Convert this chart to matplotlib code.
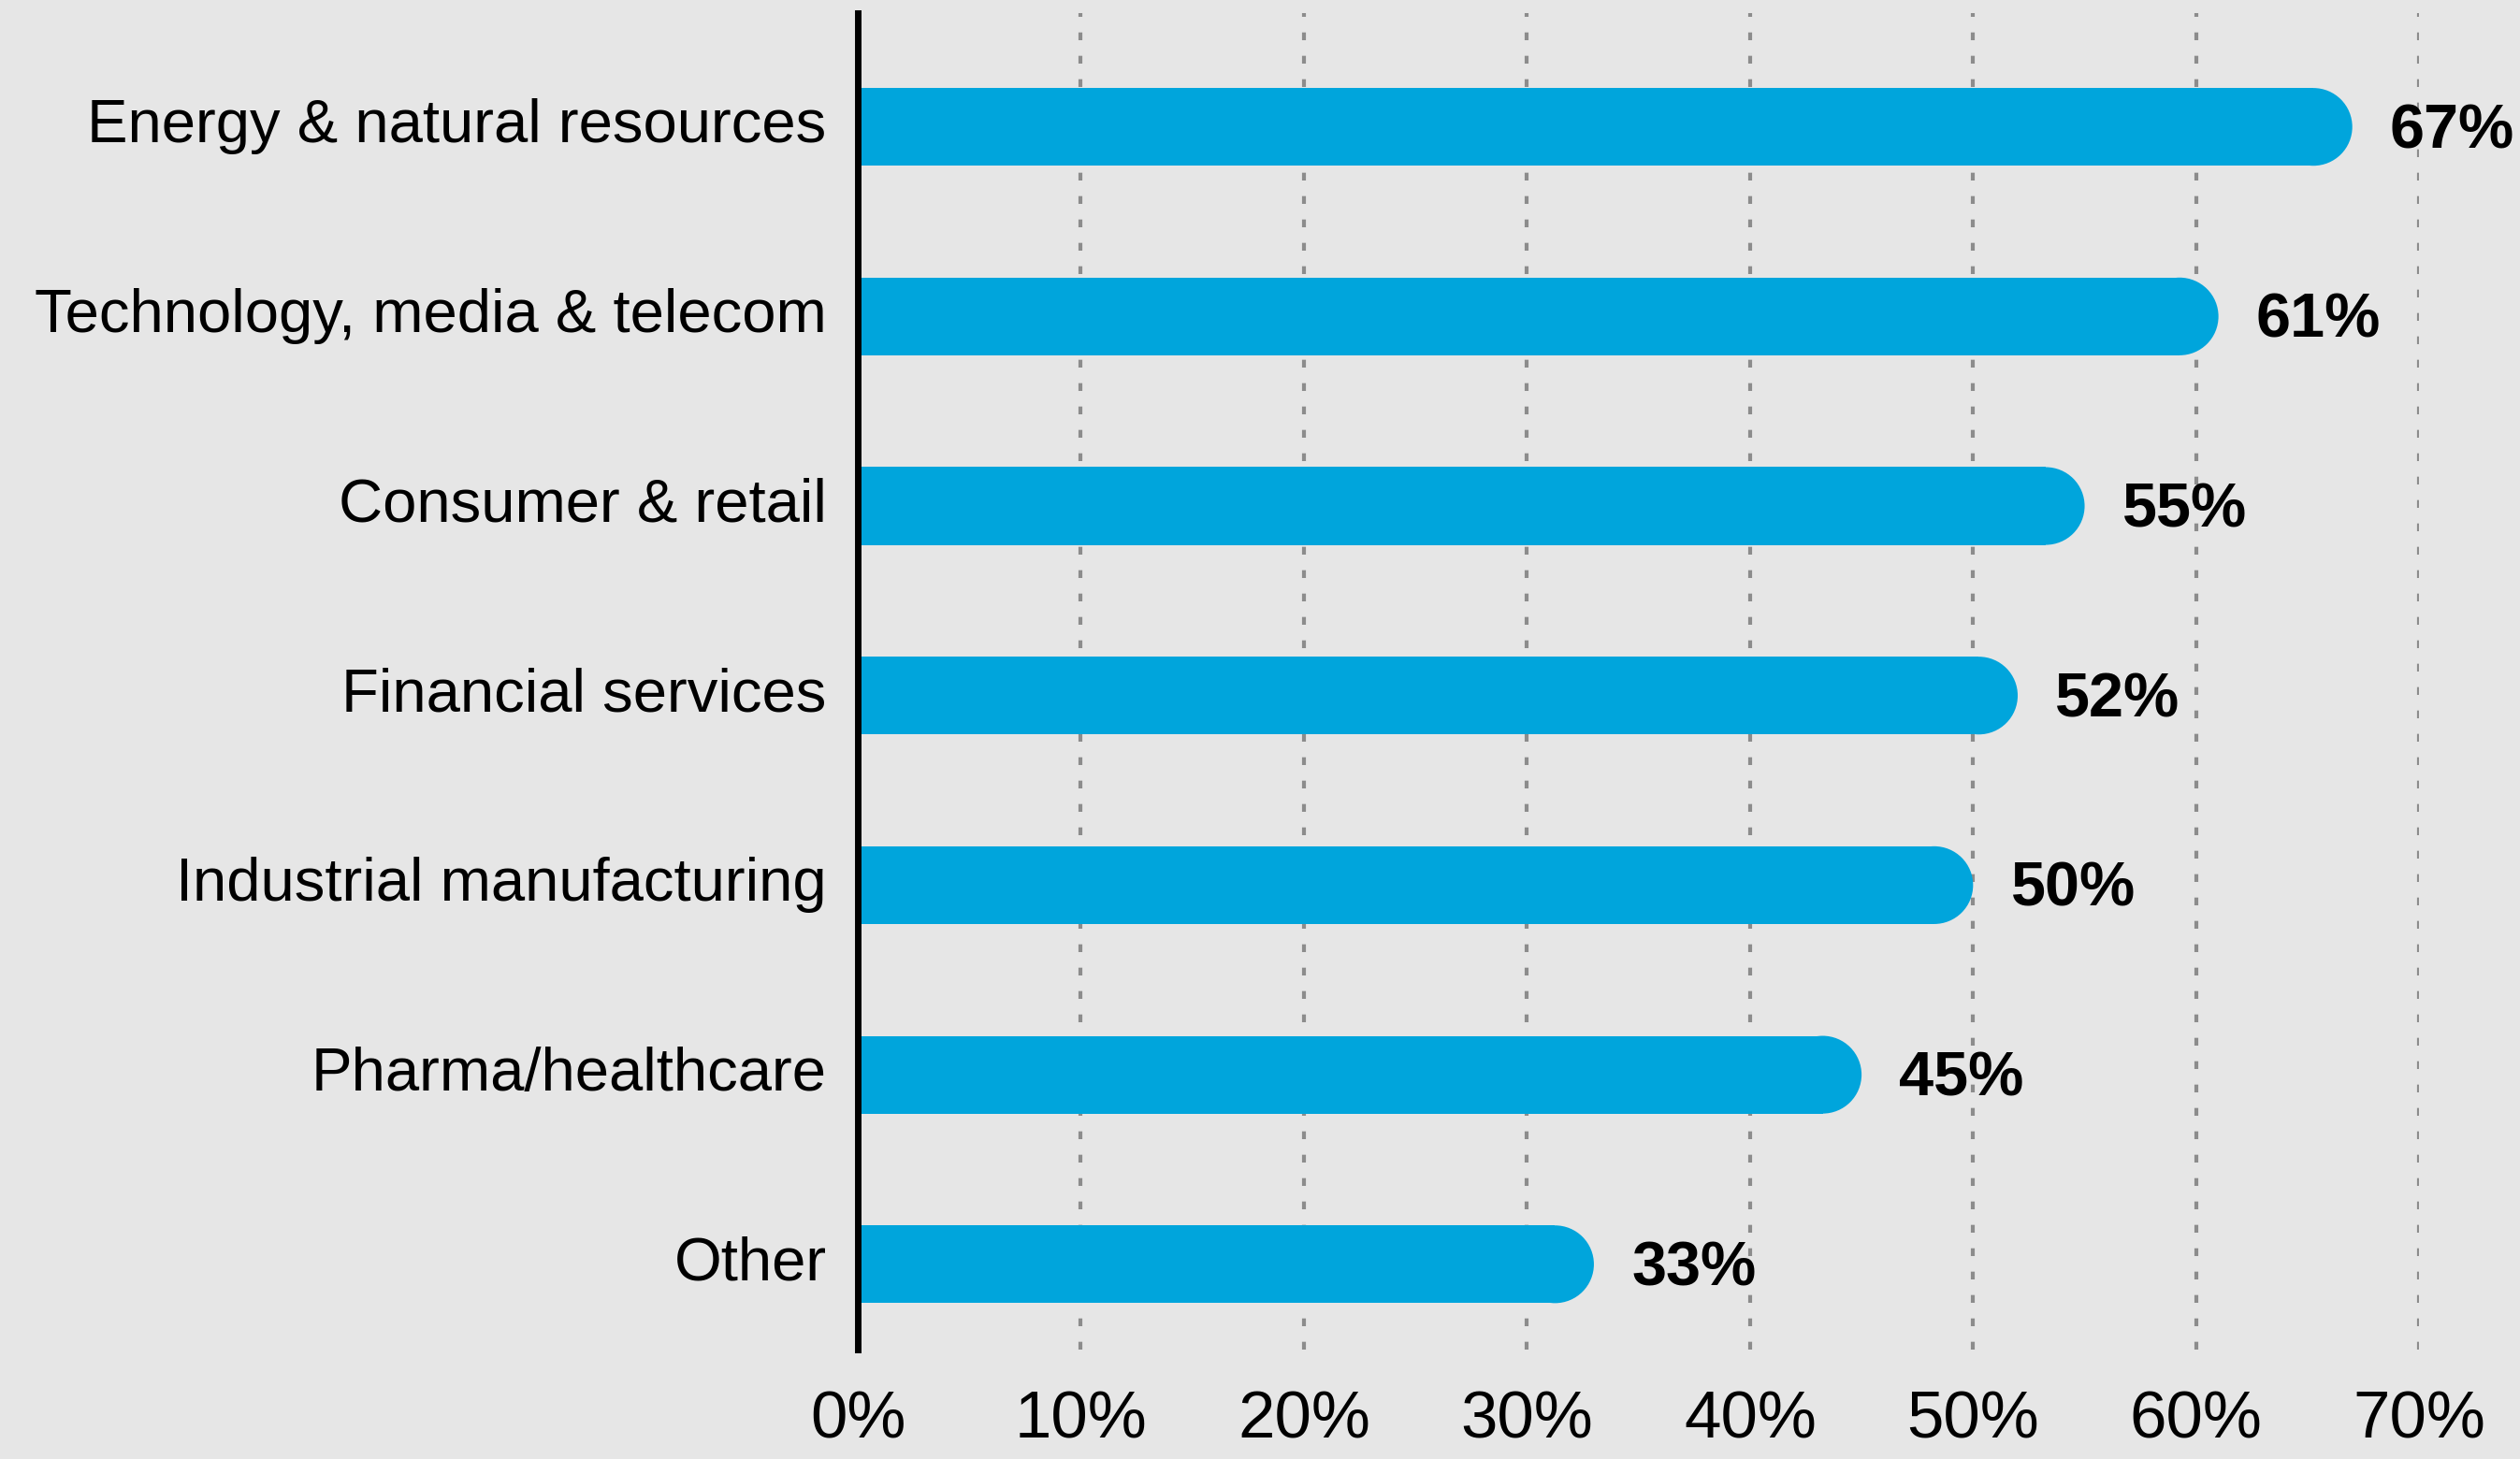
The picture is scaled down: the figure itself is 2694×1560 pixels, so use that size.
import matplotlib
matplotlib.use("Agg")
import matplotlib.pyplot as plt
from matplotlib.patches import Ellipse
from matplotlib.transforms import ScaledTranslation

plt.rcParams['font.family'] = ['Liberation Sans', 'DejaVu Sans']

categories = [
    "Energy & natural resources",
    "Technology, media & telecom",
    "Consumer & retail",
    "Financial services",
    "Industrial manufacturing",
    "Pharma/healthcare",
    "Other",
]
values = [67, 61, 55, 52, 50, 45, 33]
tick_values = [0, 10, 20, 30, 40, 50, 60, 70]
tick_labels = [f"{t}%" for t in tick_values]

bar_color = "#00A5DC"
bg_color = "#E6E6E6"
bar_h = 0.41

fig = plt.figure(figsize=(26.94, 15.6), dpi=100, facecolor=bg_color)
ax = fig.add_axes([0.3404, 0.075, 0.6196, 0.916])
ax.set_facecolor(bg_color)
ax.set_xlim(0, 70)
ax.set_ylim(6.45, -0.6)

# radius of the rounded end, in data units, so it looks like a half circle
ax_w_px = fig.get_figwidth() * fig.dpi * 0.6196
ax_h_px = fig.get_figheight() * fig.dpi * 0.916
px_per_x = ax_w_px / 70
px_per_y = ax_h_px / 7.05
r_px = bar_h * px_per_y / 2
rx = r_px / px_per_x

for i, v in enumerate(values):
    ax.barh(i, v - rx, height=bar_h, color=bar_color, zorder=3, linewidth=0)
    ax.add_patch(Ellipse((v - rx, i), 2 * rx, bar_h, color=bar_color,
                         zorder=3, linewidth=0))
    ax.annotate(f"{v}%", (v, i), xytext=(29, -4), textcoords="offset points",
                ha="left", va="center", fontsize=48, fontweight="bold",
                annotation_clip=False)

ax.set_yticks(range(len(categories)))
ax.set_yticklabels(categories, fontsize=47)
ax.set_xticks(tick_values)
ax.set_xticklabels(tick_labels, fontsize=51)
ax.tick_params(axis="y", length=0, pad=24)
ax.tick_params(axis="x", length=0, pad=31)

# labels sit a touch above the bar centre in the original
shift = ScaledTranslation(0, 5 / 72, fig.dpi_scale_trans)
for lbl in ax.get_yticklabels():
    lbl.set_transform(lbl.get_transform() + shift)

for t in tick_values[1:]:
    ax.axvline(t, color="#8C8C8C", linestyle=(0, (2, 4)), linewidth=3, zorder=1)

for s in ["top", "right", "bottom"]:
    ax.spines[s].set_visible(False)
ax.spines["left"].set_linewidth(5)
ax.spines["left"].set_color("black")
ax.spines["left"].set_zorder(4)

fig.savefig("out.png", dpi=100, facecolor=bg_color)
